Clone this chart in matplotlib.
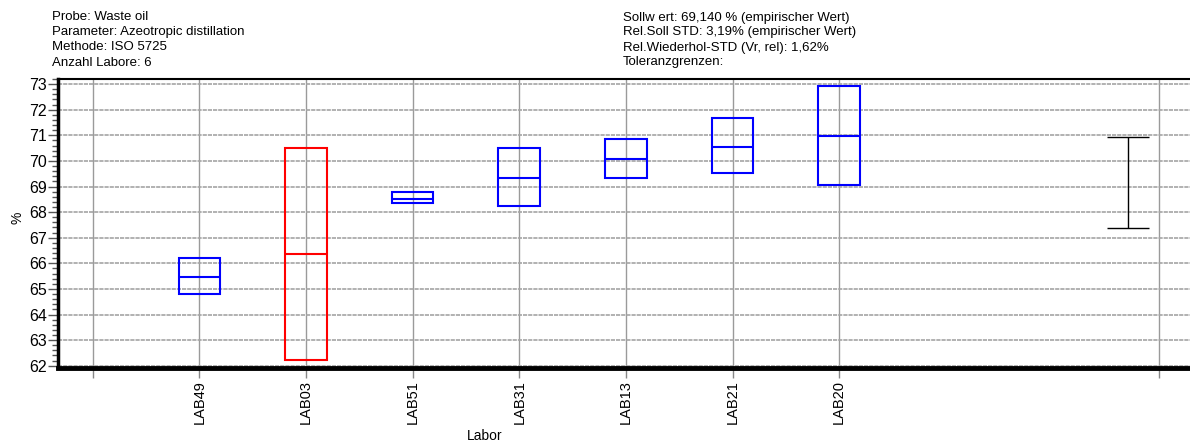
import matplotlib
matplotlib.use("Agg")
import matplotlib.pyplot as plt
from matplotlib.ticker import MultipleLocator, FixedLocator

plt.rcParams['font.family'] = ['Liberation Sans', 'DejaVu Sans']

labs = ["LAB49", "LAB03", "LAB51", "LAB31", "LAB13", "LAB21", "LAB20"]
q_low = [64.79, 62.22, 68.34, 68.23, 69.34, 69.51, 69.05]
median = [65.45, 66.35, 68.52, 69.34, 70.06, 70.55, 70.96]
q_high = [66.21, 70.51, 68.79, 70.51, 70.84, 71.68, 72.92]
colors = ["#0000ff", "#ff0000", "#0000ff", "#0000ff", "#0000ff", "#0000ff", "#0000ff"]
tol_low = 67.39
tol_high = 70.92

left_lines = ["Probe: Waste oil", "Parameter: Azeotropic distillation",
              "Methode: ISO 5725", "Anzahl Labore: 6"]
right_lines = ["Sollw ert: 69,140 % (empirischer Wert)",
               "Rel.Soll STD: 3,19% (empirischer Wert)",
               "Rel.Wiederhol-STD (Vr, rel): 1,62%",
               "Toleranzgrenzen:"]

W, H = 1190, 444
fig = plt.figure(figsize=(W / 100, H / 100), dpi=100)
ax = fig.add_axes([58 / W, 1 - 368 / H, (W - 58) / W, (368 - 79) / H])

pos = list(range(1, len(labs) + 1))
box_w = 0.39
tol_pos = 9.71

ax.set_xlim(-0.326, 10.29)
ax.set_ylim(61.91, 73.2)

# grid
ax.set_axisbelow(True)
ax.yaxis.set_major_locator(MultipleLocator(1))
ax.yaxis.set_minor_locator(MultipleLocator(0.2))
ax.xaxis.set_major_locator(FixedLocator([0] + pos + [10]))
ax.set_xticklabels([""] + labs + [""], rotation=90, fontsize=10.5)
ax.grid(axis='y', which='major', color='#a4a4a4', linewidth=1.2, linestyle=(0, (2.5, 0.6)))
ax.grid(axis='x', which='major', color='#9a9a9a', linewidth=1.0)

# boxes
ax.bar(pos, [h - l for h, l in zip(q_high, q_low)], bottom=q_low, width=box_w,
       fill=False, edgecolor=colors, linewidth=1.5, zorder=3)
for p, m, c in zip(pos, median, colors):
    ax.hlines(m, p - box_w / 2, p + box_w / 2, colors=c, linewidth=1.5, zorder=3)

# tolerance interval
ax.vlines(tol_pos, tol_low, tol_high, colors='black', linewidth=1.0, zorder=3)
ax.hlines([tol_low, tol_high], tol_pos - 0.2, tol_pos + 0.2, colors='black', linewidth=1.0, zorder=3)

# spines
ax.spines['right'].set_visible(False)
ax.spines['top'].set_linewidth(1.5)
ax.spines['left'].set_linewidth(2.5)
ax.spines['bottom'].set_linewidth(3.5)

ax.tick_params(axis='y', which='major', length=7, width=1, labelsize=11.5, color='#555555', pad=1)
ax.tick_params(axis='y', which='minor', length=4, width=1, color='#555555')
ax.tick_params(axis='x', which='major', length=7, width=1, color='#888888', pad=2)

fig.text(17 / W, 1 - 218 / H, "%", rotation=90, ha='center', va='center', fontsize=10)
fig.text(485 / W, 1 - 436 / H, "Labor", ha='center', va='center', fontsize=10)

for i, t in enumerate(left_lines):
    fig.text(52 / W, 1 - (17.5 + 15 * i) / H, t, ha='left', va='center', fontsize=9.5)
for i, t in enumerate(right_lines):
    fig.text(623 / W, 1 - (17.5 + 15 * i) / H, t, ha='left', va='center', fontsize=9.5)

fig.savefig("out.png", dpi=100)
